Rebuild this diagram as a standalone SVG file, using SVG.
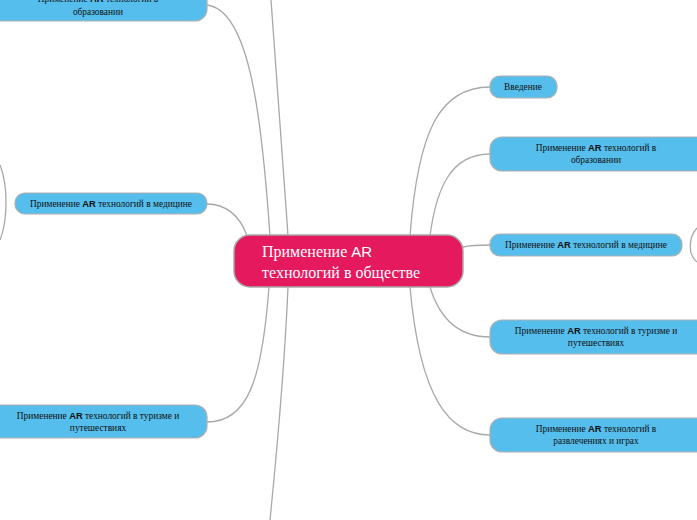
<svg xmlns="http://www.w3.org/2000/svg" width="697" height="520" viewBox="0 0 697 520">
<style>
.n{fill:#56BEEC;stroke:#B0B0B0;stroke-width:1.2}
.t{font-family:"Liberation Serif",serif;font-size:9.4px;fill:#111;text-anchor:middle}
.s{font-family:"Liberation Sans",sans-serif;font-weight:bold}
.c path{fill:none;stroke:#A8A8A8;stroke-width:1.3}
</style>
<rect width="697" height="520" fill="#fff"/>
<g class="c" id="connectors">
<path d="M270 236 C262 120 250 10 207 5"/>
<path d="M288 236 C282 150 276 60 271 0"/>
<path d="M247 236 C240 215 225 204 207 204"/>
<path d="M269 287 C262 380 248 422 207 422"/>
<path d="M288 287 C284 380 276 460 270 520"/>
<path d="M410 236 C418 130 440 87 490 87"/>
<path d="M430 236 C436 190 450 154 490 154"/>
<path d="M463 247 C472 245 480 245 490 245"/>
<path d="M430 287 C440 320 460 337 490 337"/>
<path d="M410 287 C420 400 450 435 490 435"/>
<path d="M0 165 C8 185 8 220 0 240"/>
<path d="M697 228 C688 238 688 255 697 262"/>
</g>
<g id="center">
<rect x="234" y="235" width="229" height="52" rx="16" fill="#E5195E" stroke="#A8A8A8" stroke-width="1.5"/>
<text font-family="Liberation Serif,serif" font-size="16" fill="#fff"><tspan x="262" y="257">Применение <tspan font-family="Liberation Sans,sans-serif" font-size="15">AR</tspan></tspan><tspan x="262" y="278">технологий в обществе</tspan></text>
</g>
<g id="l-edu"><rect class="n" x="-20" y="-22" width="227" height="43" rx="12"/><text class="t"><tspan x="98" y="2">Применение <tspan class="s">AR</tspan> технологий в</tspan><tspan x="98" y="15">образовании</tspan></text></g>
<g id="l-med"><rect class="n" x="15" y="193" width="192" height="21" rx="10"/><text class="t" x="111" y="207">Применение <tspan class="s">AR</tspan> технологий в медицине</text></g>
<g id="l-tour"><rect class="n" x="-20" y="405" width="227" height="33" rx="12"/><text class="t"><tspan x="98" y="419">Применение <tspan class="s">AR</tspan> технологий в туризме и</tspan><tspan x="98" y="431">путешествиях</tspan></text></g>
<g id="r-intro"><rect class="n" x="490" y="76" width="67" height="22" rx="10"/><text class="t" x="523" y="90">Введение</text></g>
<g id="r-edu"><rect class="n" x="490" y="137" width="220" height="34" rx="12"/><text class="t"><tspan x="596" y="151">Применение <tspan class="s">AR</tspan> технологий в</tspan><tspan x="596" y="163">образовании</tspan></text></g>
<g id="r-med"><rect class="n" x="490" y="234" width="192" height="22" rx="10"/><text class="t" x="586" y="248">Применение <tspan class="s">AR</tspan> технологий в медицине</text></g>
<g id="r-tour"><rect class="n" x="490" y="320" width="220" height="34" rx="12"/><text class="t"><tspan x="596" y="334">Применение <tspan class="s">AR</tspan> технологий в туризме и</tspan><tspan x="596" y="346">путешествиях</tspan></text></g>
<g id="r-ent"><rect class="n" x="490" y="418" width="220" height="34" rx="12"/><text class="t"><tspan x="596" y="432">Применение <tspan class="s">AR</tspan> технологий в</tspan><tspan x="596" y="444">развлечениях и играх</tspan></text></g>
</svg>
